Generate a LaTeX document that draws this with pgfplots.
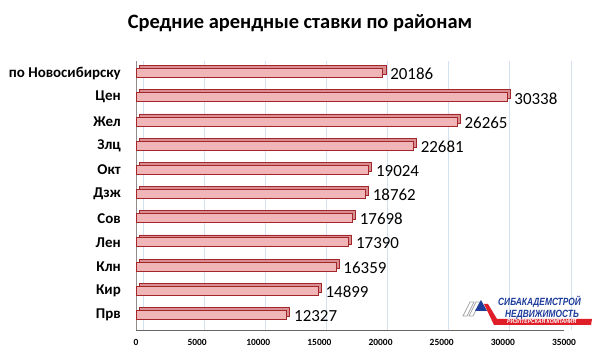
\documentclass[border=0pt]{standalone}
\usepackage{pgfplots}
\pgfplotsset{compat=1.18}
\usepackage{pgfplotstable}
\usepackage{fontspec}
\setmainfont{Carlito}
\newfontfamily\logofont{Liberation Sans}
\definecolor{barfill}{HTML}{F0B6B7}
\definecolor{barborder}{HTML}{A3262B}
\definecolor{barside}{HTML}{D98E91}
\definecolor{gridblue}{HTML}{D3E0EF}
\definecolor{logoblue}{HTML}{1E3C9C}
\definecolor{logored}{HTML}{E01E28}

\pgfplotstableread{
idx value
0 20186
1 30338
2 26265
3 22681
4 19024
5 18762
6 17698
7 17390
8 16359
9 14899
10 12327
}\datatable

\begin{document}
\begin{tikzpicture}
\useasboundingbox (0,0) rectangle (600bp,355bp);
\fill[white] (0,0) rectangle (600bp,355bp);
\node[font=\bfseries\fontsize{20.5}{23}\selectfont, anchor=base, inner sep=0pt] at (300bp,326bp) {Средние арендные ставки по районам};
\begin{axis}[
  at={(136bp,25bp)}, anchor=south west,
  scale only axis, width=428bp, height=269bp,
  xmin=0, xmax=35000, ymin=-0.5, ymax=10.62, y dir=reverse,
  xbar, bar width=9bp, bar shift=0pt,
  axis x line*=bottom, axis y line*=left,
  x axis line style={draw=black!60, line width=0.9pt, -},
  y axis line style={draw=black!45, line width=0.6pt, -},
  xtick={0,5000,...,35000},
  ytick={0,...,10},
  yticklabels={по Новосибирску,Цен,Жел,Злц,Окт,Дзж,Сов,Лен,Клн,Кир,Прв},
  major tick length=0pt,
  xmajorgrids, major grid style={draw=gridblue, line width=0.8pt, xshift=7bp},
  scaled x ticks=false,
  /pgf/number format/assume math mode=true,
  /pgf/number format/1000 sep={},
  xticklabel style={font=\bfseries\fontsize{9.5}{11}\selectfont, inner sep=0pt, yshift=-9bp},
  yticklabel style={font=\bfseries\fontsize{15}{17}\selectfont, inner sep=0pt, xshift=-15bp},
]
\addplot[xbar, bar shift=0pt, fill=barside, draw=barborder, line width=0.6pt, xshift=3bp, yshift=3bp] table[x=value, y=idx] {\datatable};
\addplot[xbar, bar shift=0pt, fill=barfill, draw=barborder, line width=0.9pt,
  nodes near coords,
  nodes near coords style={font=\fontsize{17}{20}\selectfont, anchor=west, inner sep=0pt, xshift=7bp, yshift=-1bp, text=black}]
  table[x=value, y=idx] {\datatable};
\end{axis}
% logo
\begin{scope}[yscale=-1, yshift=-355bp]
\draw[gray!70, line width=0.8pt] (463bp,316bp) -- (470bp,302bp) -- (474bp,302bp) -- (467bp,316bp) -- cycle;
\draw[gray!70, line width=0.8pt] (469bp,316bp) -- (476bp,302bp) -- (480bp,302bp) -- (473bp,316bp) -- cycle;
\fill[logoblue] (481bp,300bp) -- (487bp,311bp) -- (475bp,311bp) -- cycle;
\fill[logored] (484bp,304bp) -- (488bp,304bp) -- (497bp,319bp) -- (592bp,319bp) -- (591bp,325bp) -- (494bp,325bp) -- cycle;
\end{scope}
\node[anchor=base west, inner sep=0pt, text=logoblue, font=\logofont\bfseries\itshape\fontsize{10.5}{12}\selectfont] at (498bp,49bp) {\scalebox{0.8}[1]{СИБАКАДЕМСТРОЙ}};
\node[anchor=base west, inner sep=0pt, text=logoblue, font=\logofont\bfseries\itshape\fontsize{10.5}{12}\selectfont] at (505bp,38bp) {\scalebox{0.8}[1]{НЕДВИЖИМОСТЬ}};
\node[anchor=base west, inner sep=0pt, text=white, font=\logofont\bfseries\itshape\fontsize{6}{7}\selectfont] at (507bp,31.5bp) {\scalebox{0.85}[1]{РИЭЛТЕРСКАЯ КОМПАНИЯ}};
\end{tikzpicture}
\end{document}
